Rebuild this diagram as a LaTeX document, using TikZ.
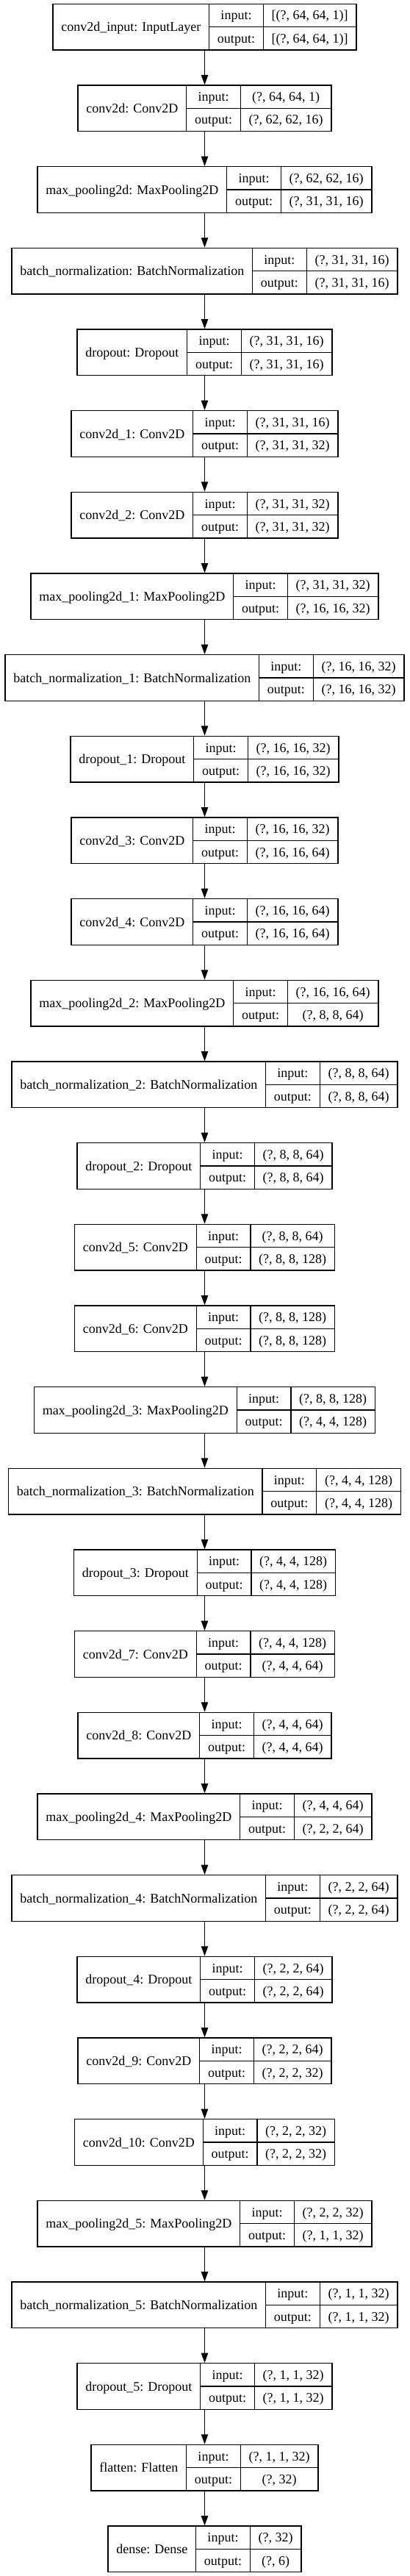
\documentclass[tikz,border=0pt]{standalone}
\usepackage{fontspec}
\setmainfont{Liberation Serif}
\usetikzlibrary{arrows.meta}
\newlength\klwA \newlength\klwB \newlength\klwC \newlength\klwD
\newcommand\kfont{\fontsize{13.5}{16}\selectfont}
\newcommand\kpad{17}
\tikzset{
  kbox/.style={draw=black, line width=1pt, minimum height=47pt, inner sep=0pt},
  kline/.style={draw=black, line width=1pt},
  ktext/.style={font=\kfont, inner sep=0pt, anchor=base},
  karrow/.style={draw=black, line width=1pt, -{Triangle[length=10pt,width=7pt]}},
}
% measure text widths outside the picture
\newcommand\kmeasure[5]{%
  \settowidth\klwA{\kfont #3}%
  \settowidth\klwB{\kfont output:}%
  \settowidth\klwC{\kfont #4}\settowidth\klwD{\kfont #5}%
  \ifdim\klwD>\klwC \klwC=\klwD\fi
  \expandafter\xdef\csname kA@#1\endcsname{\the\klwA}%
  \expandafter\xdef\csname kB@#1\endcsname{\the\klwB}%
  \expandafter\xdef\csname kC@#1\endcsname{\the\klwC}%
}
\newcommand\klayer[5]{%
  \pgfmathsetmacro\kA{\csname kA@#1\endcsname/1pt+\kpad}%
  \pgfmathsetmacro\kB{\csname kB@#1\endcsname/1pt+\kpad}%
  \pgfmathsetmacro\kC{\csname kC@#1\endcsname/1pt+\kpad}%
  \pgfmathsetmacro\kW{\kA+\kB+\kC}%
  \pgfmathsetmacro\kcy{-(27.5+83*#2)}%
  \pgfmathsetmacro\kxl{208.875-\kW/2}%
  \pgfmathsetmacro\kxa{\kxl+\kA}%
  \pgfmathsetmacro\kxb{\kxa+\kB}%
  \pgfmathsetmacro\kxr{\kxb+\kC}%
  \pgfmathsetmacro\kyt{\kcy+23.5}%
  \pgfmathsetmacro\kyb{\kcy-23.5}%
  \pgfmathsetmacro\kxlc{\kxl+\kA/2}%
  \pgfmathsetmacro\kxbc{\kxa+\kB/2}%
  \pgfmathsetmacro\kxcc{\kxb+\kC/2}%
  \pgfmathsetmacro\kbl{\kcy-4.5}%
  \pgfmathsetmacro\kbi{\kcy+11.75-4.5}%
  \pgfmathsetmacro\kbo{\kcy-11.75-4.5}%
  \node[kbox, minimum width=\kW pt] (#1) at (208.875pt,\kcy pt) {};
  \draw[kline] (\kxa pt,\kyt pt) -- (\kxa pt,\kyb pt)
               (\kxb pt,\kyt pt) -- (\kxb pt,\kyb pt)
               (\kxa pt,\kcy pt) -- (\kxr pt,\kcy pt);
  \node[ktext] (#1-l) at (\kxlc pt,\kbl pt) {#3};
  \node[ktext] (#1-i) at (\kxbc pt,\kbi pt) {input:};
  \node[ktext] (#1-o) at (\kxbc pt,\kbo pt) {output:};
  \node[ktext] (#1-iv) at (\kxcc pt,\kbi pt) {#4};
  \node[ktext] (#1-ov) at (\kxcc pt,\kbo pt) {#5};
}
\newcommand\kalllayers{%
\kL{L0}{0}{conv2d\_input: InputLayer}{[(?, 64, 64, 1)]}{[(?, 64, 64, 1)]}%
\kL{L1}{1}{conv2d: Conv2D}{(?, 64, 64, 1)}{(?, 62, 62, 16)}%
\kL{L2}{2}{max\_pooling2d: MaxPooling2D}{(?, 62, 62, 16)}{(?, 31, 31, 16)}%
\kL{L3}{3}{batch\_normalization: BatchNormalization}{(?, 31, 31, 16)}{(?, 31, 31, 16)}%
\kL{L4}{4}{dropout: Dropout}{(?, 31, 31, 16)}{(?, 31, 31, 16)}%
\kL{L5}{5}{conv2d\_1: Conv2D}{(?, 31, 31, 16)}{(?, 31, 31, 32)}%
\kL{L6}{6}{conv2d\_2: Conv2D}{(?, 31, 31, 32)}{(?, 31, 31, 32)}%
\kL{L7}{7}{max\_pooling2d\_1: MaxPooling2D}{(?, 31, 31, 32)}{(?, 16, 16, 32)}%
\kL{L8}{8}{batch\_normalization\_1: BatchNormalization}{(?, 16, 16, 32)}{(?, 16, 16, 32)}%
\kL{L9}{9}{dropout\_1: Dropout}{(?, 16, 16, 32)}{(?, 16, 16, 32)}%
\kL{L10}{10}{conv2d\_3: Conv2D}{(?, 16, 16, 32)}{(?, 16, 16, 64)}%
\kL{L11}{11}{conv2d\_4: Conv2D}{(?, 16, 16, 64)}{(?, 16, 16, 64)}%
\kL{L12}{12}{max\_pooling2d\_2: MaxPooling2D}{(?, 16, 16, 64)}{(?, 8, 8, 64)}%
\kL{L13}{13}{batch\_normalization\_2: BatchNormalization}{(?, 8, 8, 64)}{(?, 8, 8, 64)}%
\kL{L14}{14}{dropout\_2: Dropout}{(?, 8, 8, 64)}{(?, 8, 8, 64)}%
\kL{L15}{15}{conv2d\_5: Conv2D}{(?, 8, 8, 64)}{(?, 8, 8, 128)}%
\kL{L16}{16}{conv2d\_6: Conv2D}{(?, 8, 8, 128)}{(?, 8, 8, 128)}%
\kL{L17}{17}{max\_pooling2d\_3: MaxPooling2D}{(?, 8, 8, 128)}{(?, 4, 4, 128)}%
\kL{L18}{18}{batch\_normalization\_3: BatchNormalization}{(?, 4, 4, 128)}{(?, 4, 4, 128)}%
\kL{L19}{19}{dropout\_3: Dropout}{(?, 4, 4, 128)}{(?, 4, 4, 128)}%
\kL{L20}{20}{conv2d\_7: Conv2D}{(?, 4, 4, 128)}{(?, 4, 4, 64)}%
\kL{L21}{21}{conv2d\_8: Conv2D}{(?, 4, 4, 64)}{(?, 4, 4, 64)}%
\kL{L22}{22}{max\_pooling2d\_4: MaxPooling2D}{(?, 4, 4, 64)}{(?, 2, 2, 64)}%
\kL{L23}{23}{batch\_normalization\_4: BatchNormalization}{(?, 2, 2, 64)}{(?, 2, 2, 64)}%
\kL{L24}{24}{dropout\_4: Dropout}{(?, 2, 2, 64)}{(?, 2, 2, 64)}%
\kL{L25}{25}{conv2d\_9: Conv2D}{(?, 2, 2, 64)}{(?, 2, 2, 32)}%
\kL{L26}{26}{conv2d\_10: Conv2D}{(?, 2, 2, 32)}{(?, 2, 2, 32)}%
\kL{L27}{27}{max\_pooling2d\_5: MaxPooling2D}{(?, 2, 2, 32)}{(?, 1, 1, 32)}%
\kL{L28}{28}{batch\_normalization\_5: BatchNormalization}{(?, 1, 1, 32)}{(?, 1, 1, 32)}%
\kL{L29}{29}{dropout\_5: Dropout}{(?, 1, 1, 32)}{(?, 1, 1, 32)}%
\kL{L30}{30}{flatten: Flatten}{(?, 1, 1, 32)}{(?, 32)}%
\kL{L31}{31}{dense: Dense}{(?, 32)}{(?, 6)}%
}
\begin{document}%
\let\kL\kmeasure\kalllayers%
\begin{tikzpicture}
\useasboundingbox (0pt,0pt) rectangle (417.75pt,-2628pt);
\let\kL\klayer
\kalllayers
\foreach \i [evaluate=\i as \j using int(\i+1)] in {0,...,30}
  \draw[karrow] (L\i.south) -- (L\j.north);
\end{tikzpicture}%
\end{document}
